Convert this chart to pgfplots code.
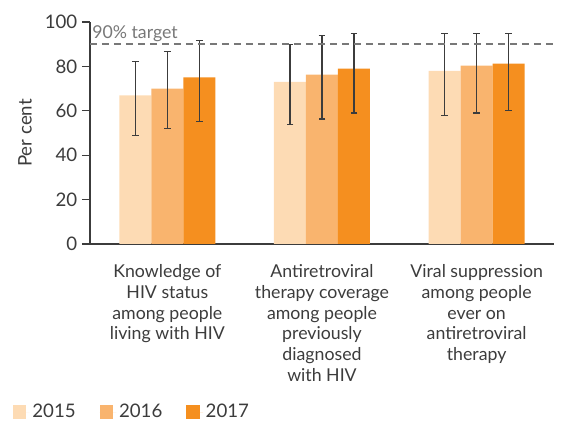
\documentclass[border=0pt]{standalone}
\usepackage{pgfplots}
\pgfplotsset{compat=1.18}
\usepackage{fontspec}
\setmainfont{Lato}
\definecolor{c15}{RGB}{253,219,180}
\definecolor{c16}{RGB}{249,180,110}
\definecolor{c17}{RGB}{245,143,31}
\definecolor{txt}{RGB}{60,60,60}
\definecolor{tgt}{RGB}{120,120,120}
\begin{document}
\begin{tikzpicture}
\path[use as bounding box] (-67.5pt,-132.75pt) rectangle (354pt,183pt);
\begin{axis}[
  at={(0pt,0pt)}, anchor=south west,
  scale only axis, width=348pt, height=166.5pt,
  ybar=0pt, bar width=24pt,
  xmin=-0.5, xmax=2.5, ymin=0, ymax=100,
  axis x line=bottom, axis y line=left,
  axis line style={-, txt, line width=0.8pt},
  xtick={0,1,2}, xtick style={draw=none},
  xticklabels={{Knowledge of\\HIV status\\among people\\living with HIV},
               {Antiretroviral\\therapy coverage\\among people\\previously\\diagnosed\\with HIV},
               {Viral suppression\\among people\\ever on\\antiretroviral\\therapy}},
  xticklabel style={align=center, font=\fontsize{13.3}{15.5}\selectfont, text=txt, yshift=-6pt},
  ytick={0,20,...,100}, tick align=outside, major tick length=6pt,
  ytick style={txt, line width=0.8pt},
  yticklabel style={font=\fontsize{14}{16}\selectfont, text=txt},
  /pgf/number format/assume math mode=true,
  ylabel={Per cent},
  ylabel style={at={(axis description cs:-0.14,0.5)}, anchor=center, font=\fontsize{14}{16}\selectfont, text=txt},
  legend style={draw=none, fill=none, legend columns=3,
    at={(axis description cs:-0.175,-0.757)}, anchor=west,
    font=\fontsize{14}{16}\selectfont, text=txt,
    /tikz/every even column/.append style={column sep=16pt}},
  legend cell align=left,
  legend image code/.code={\fill[#1] (0pt,-5pt) rectangle (10pt,5pt); \path (0pt,0pt) -- (12.5pt,0pt);},
  error bars/y dir=both, error bars/y explicit,
  error bars/error bar style={txt, line width=0.8pt},
  error bars/error mark options={txt, line width=0.8pt, mark size=2.5pt, rotate=90},
]
\addplot[fill=c15, draw=none] coordinates {
  (0,67) += (0,15) -= (0,18)
  (1,73) += (0,17) -= (0,19)
  (2,78) += (0,17) -= (0,20)
};
\addplot[fill=c16, draw=none] coordinates {
  (0,70) += (0,16.7) -= (0,17.8)
  (1,76.3) += (0,17.7) -= (0,20)
  (2,80.3) += (0,14.7) -= (0,21.3)
};
\addplot[fill=c17, draw=none] coordinates {
  (0,75) += (0,16.7) -= (0,20)
  (1,79) += (0,16) -= (0,20)
  (2,81.2) += (0,13.8) -= (0,21)
};
\legend{2015,2016,2017}
\draw[tgt, line width=1.1pt, dash pattern=on 5pt off 4pt] (axis cs:-0.5,90) -- (axis cs:2.5,90);
\node[anchor=south west, inner sep=1.5pt, text=tgt, font=\fontsize{13.3}{15}\selectfont] at (axis cs:-0.5,90) {90\% target};
\end{axis}
\end{tikzpicture}
\end{document}
